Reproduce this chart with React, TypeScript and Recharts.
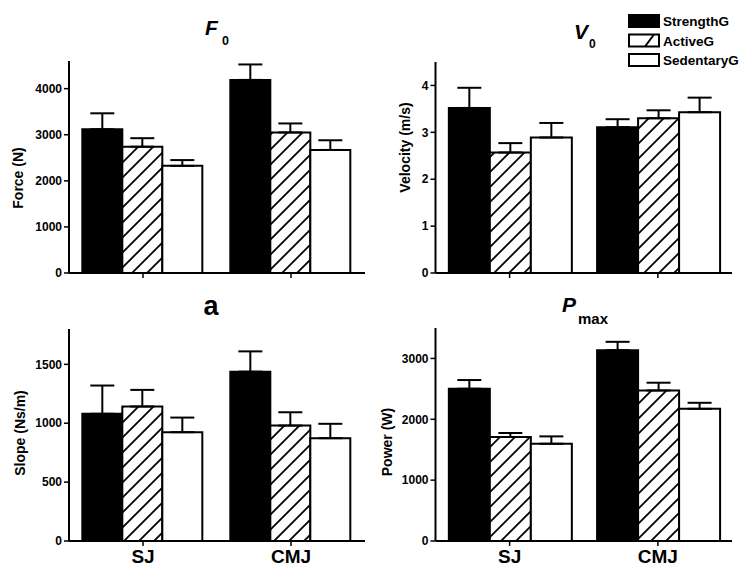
import React from 'react';
import { BarChart, Bar, XAxis, YAxis, ErrorBar, Legend } from 'recharts';

const categories = ['SJ', 'CMJ'];
const groupNames = ['StrengthG', 'ActiveG', 'SedentaryG'];

// F0 – Force (N)
const forceStrength = [3120, 4190];
const forceStrengthErr = [345, 335];
const forceActive = [2740, 3050];
const forceActiveErr = [185, 195];
const forceSedentary = [2325, 2670];
const forceSedentaryErr = [125, 210];
const forceTicks = [0, 1000, 2000, 3000, 4000];

// V0 – Velocity (m/s)
const velStrength = [3.52, 3.11];
const velStrengthErr = [0.43, 0.17];
const velActive = [2.57, 3.3];
const velActiveErr = [0.2, 0.17];
const velSedentary = [2.89, 3.43];
const velSedentaryErr = [0.31, 0.31];
const velTicks = [0, 1, 2, 3, 4];

// a – Slope (Ns/m)
const slopeStrength = [1080, 1438];
const slopeStrengthErr = [240, 172];
const slopeActive = [1142, 980];
const slopeActiveErr = [141, 113];
const slopeSedentary = [924, 873];
const slopeSedentaryErr = [124, 122];
const slopeTicks = [0, 500, 1000, 1500];

// Pmax – Power (W)
const powStrength = [2502, 3136];
const powStrengthErr = [143, 137];
const powActive = [1709, 2474];
const powActiveErr = [66, 127];
const powSedentary = [1598, 2172];
const powSedentaryErr = [121, 99];
const powTicks = [0, 1000, 2000, 3000];

function buildRows(
  s: number[], se: number[], a: number[], ae: number[], d: number[], de: number[]
) {
  return categories.map((c, i) => ({
    name: c,
    s: s[i], sErr: [0, se[i]],
    a: a[i], aErr: [0, ae[i]],
    d: d[i], dErr: [0, de[i]],
  }));
}

const forceRows = buildRows(forceStrength, forceStrengthErr, forceActive, forceActiveErr, forceSedentary, forceSedentaryErr);
const velRows = buildRows(velStrength, velStrengthErr, velActive, velActiveErr, velSedentary, velSedentaryErr);
const slopeRows = buildRows(slopeStrength, slopeStrengthErr, slopeActive, slopeActiveErr, slopeSedentary, slopeSedentaryErr);
const powRows = buildRows(powStrength, powStrengthErr, powActive, powActiveErr, powSedentary, powSedentaryErr);

const FONT = '"Liberation Sans", Arial, Helvetica, sans-serif';

const renderLegend = (props: any) => {
  const payload: any[] = [...(props.payload || [])].sort(
    (x: any, y: any) => groupNames.indexOf(x.value) - groupNames.indexOf(y.value)
  );
  return (
    <svg width={125} height={56} style={{ display: 'block', fontFamily: FONT }}>
      {payload.map((p: any, i: number) => {
        const idx = groupNames.indexOf(p.value);
        const y = 1 + i * 19.5;
        return (
          <g key={p.value}>
            <rect x={1} y={y} width={30} height={12} fill={idx === 0 ? '#000' : '#fff'} stroke="#000" strokeWidth={2} />
            {idx === 1 && <line x1={17} y1={y + 12} x2={26} y2={y} stroke="#000" strokeWidth={2} />}
            <text x={35} y={y + 11} fontSize={13.5} fontWeight={700} fill="#000">{p.value}</text>
          </g>
        );
      })}
    </svg>
  );
};

type PanelProps = {
  id: string;
  left: number;
  top: number;
  width: number;
  height: number;
  rows: any[];
  domain: [number, number];
  ticks: number[];
  yLabel: string;
  labelDx: number;
  labelDy: number;
  margin: { top: number; right: number; bottom: number; left: number };
  yWidth: number;
  xHeight: number;
  showX: boolean;
  legend?: boolean;
};

function Panel(p: PanelProps) {
  const hatch = `hatch-${p.id}`;
  return (
    <div style={{ position: 'absolute', left: p.left, top: p.top }}>
      <BarChart
        width={p.width}
        height={p.height}
        data={p.rows}
        margin={p.margin}
        barCategoryGap="9%"
        barGap={0}
        style={{ fontFamily: FONT }}
      >
        <defs>
          <pattern id={hatch} patternUnits="userSpaceOnUse" width={15} height={15}>
            <rect x={0} y={0} width={15} height={15} fill="#fff" />
            <path d="M-4,4 L4,-4 M0,15 L15,0 M11,19 L19,11" stroke="#000" strokeWidth={1.8} />
          </pattern>
        </defs>
        <XAxis
          dataKey="name"
          height={p.xHeight}
          axisLine={{ stroke: '#000', strokeWidth: 2 }}
          tickLine={{ stroke: '#000', strokeWidth: 1.5 }}
          tickSize={5}
          tickMargin={4}
          tick={{ fill: '#000', fontSize: 19, fontWeight: 700, fontFamily: FONT }}
          tickFormatter={p.showX ? undefined : () => ''}
        />
        <YAxis
          width={p.yWidth}
          domain={p.domain}
          ticks={p.ticks}
          allowDataOverflow
          axisLine={{ stroke: '#000', strokeWidth: 2 }}
          tickLine={{ stroke: '#000', strokeWidth: 1.5 }}
          tickSize={5}
          tickMargin={2}
          tick={{ fill: '#000', fontSize: 12, fontWeight: 700, fontFamily: FONT }}
          label={{
            value: p.yLabel,
            angle: -90,
            position: 'center',
            dx: p.labelDx,
            dy: p.labelDy,
            style: { fill: '#000', fontSize: 14, fontWeight: 700, fontFamily: FONT, textAnchor: 'middle' },
          }}
        />
        <Bar dataKey="s" name={groupNames[0]} fill="#000" stroke="#000" strokeWidth={2} isAnimationActive={false}>
          <ErrorBar dataKey="sErr" width={12} strokeWidth={2} stroke="#000" direction="y" />
        </Bar>
        <Bar dataKey="a" name={groupNames[1]} fill={`url(#${hatch})`} stroke="#000" strokeWidth={2} isAnimationActive={false}>
          <ErrorBar dataKey="aErr" width={12} strokeWidth={2} stroke="#000" direction="y" />
        </Bar>
        <Bar dataKey="d" name={groupNames[2]} fill="#fff" stroke="#000" strokeWidth={2} isAnimationActive={false}>
          <ErrorBar dataKey="dErr" width={12} strokeWidth={2} stroke="#000" direction="y" />
        </Bar>
        {p.legend && (
          <Legend
            layout="vertical"
            align="center"
            verticalAlign="middle"
            content={renderLegend}
            wrapperStyle={{ left: 251, top: 14, width: 125, height: 56 }}
          />
        )}
      </BarChart>
    </div>
  );
}

export default function App() {
  return (
    <div style={{ position: 'absolute', left: 0, top: 0, width: 754, height: 578, background: '#fff', fontFamily: FONT }}>
      <Panel
        id="f"
        left={0}
        top={0}
        width={377}
        height={290}
        rows={forceRows}
        domain={[0, 4600]}
        ticks={forceTicks}
        yLabel="Force (N)"
        labelDx={-21}
        labelDy={11}
        margin={{ top: 61, right: 12, bottom: 0, left: 9 }}
        yWidth={60}
        xHeight={17}
        showX={false}
      />
      <Panel
        id="v"
        left={377}
        top={0}
        width={377}
        height={290}
        rows={velRows}
        domain={[0, 4.5]}
        ticks={velTicks}
        yLabel="Velocity (m/s)"
        labelDx={-5.5}
        labelDy={-20}
        margin={{ top: 62, right: 22, bottom: 0, left: 8.5 }}
        yWidth={50}
        xHeight={17}
        showX={false}
        legend
      />
      <Panel
        id="a"
        left={0}
        top={290}
        width={377}
        height={288}
        rows={slopeRows}
        domain={[0, 1800]}
        ticks={slopeTicks}
        yLabel="Slope (Ns/m)"
        labelDx={-19}
        labelDy={-2}
        margin={{ top: 39, right: 12, bottom: 0, left: 9 }}
        yWidth={60}
        xHeight={37}
        showX
      />
      <Panel
        id="p"
        left={377}
        top={290}
        width={377}
        height={288}
        rows={powRows}
        domain={[0, 3500]}
        ticks={powTicks}
        yLabel="Power (W)"
        labelDx={-23.5}
        labelDy={7.5}
        margin={{ top: 38, right: 22, bottom: 0, left: 8.5 }}
        yWidth={50}
        xHeight={37}
        showX
      />
      <svg
        width={754}
        height={578}
        style={{ position: 'absolute', left: 0, top: 0, pointerEvents: 'none', fontFamily: FONT }}
      >
        <text x={205} y={35} fontSize={21} fontWeight={700} fontStyle="italic" fill="#000">F</text>
        <text x={222} y={45} fontSize={12.5} fontWeight={700} fill="#000">0</text>
        <text x={574} y={39} fontSize={21} fontWeight={700} fontStyle="italic" fill="#000">V</text>
        <text x={589} y={48} fontSize={12} fontWeight={700} fill="#000">0</text>
        <text x={211} y={315} fontSize={27} fontWeight={700} fill="#000" textAnchor="middle">a</text>
        <text x={562} y={312} fontSize={21} fontWeight={700} fontStyle="italic" fill="#000">P</text>
        <text x={578} y={324} fontSize={15} fontWeight={700} fill="#000">max</text>
      </svg>
    </div>
  );
}
